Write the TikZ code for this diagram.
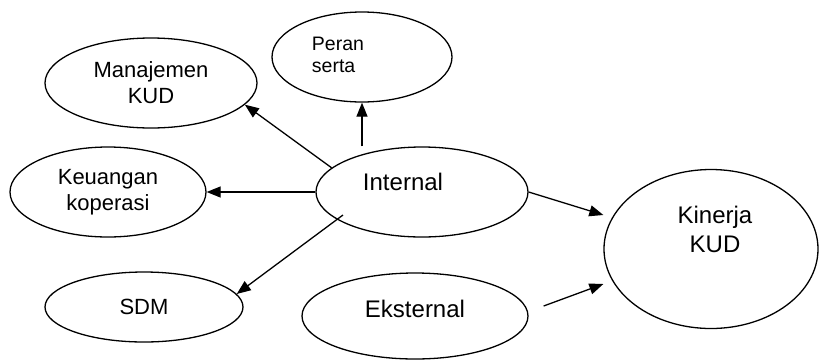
\documentclass[tikz,border=0pt]{standalone}
\usepackage{fontspec}
\setmainfont{Liberation Sans}
\usetikzlibrary{arrows.meta,shapes.geometric}

\tikzset{
  factor/.style={ellipse, draw, line width=1.3pt, inner sep=0pt, align=center},
  bigfont/.style={font=\fontsize{24}{29}\selectfont},
  midfont/.style={font=\fontsize{22}{26}\selectfont},
  smallfont/.style={font=\fontsize{19.5}{22}\selectfont},
}

\begin{document}
\begin{tikzpicture}[x=1pt, y=1pt, line width=1.3pt, >={Triangle[length=14pt,width=11pt]}]
    \useasboundingbox (0,0) rectangle (820,-360);
    \node [factor, midfont, minimum width=212pt, minimum height=90pt] (manajemen) at (151,-83) {Manajemen\\KUD};
    \node [factor, minimum width=180pt, minimum height=90pt,
           label={[smallfont, align=left, xshift=-24pt, yshift=2pt]center:Peran\\serta}] (peran) at (362,-57) {};
    \node [factor, midfont, minimum width=196pt, minimum height=90pt] (keuangan) at (108,-192) {Keuangan\\koperasi};
    \node [factor, minimum width=212pt, minimum height=90pt,
           label={[bigfont, xshift=-19pt, yshift=10pt]center:Internal}] (internal) at (422,-192) {};
    \node [factor, midfont, minimum width=198pt, minimum height=70pt] (sdm) at (144,-307) {SDM};
    \node [factor, minimum width=226pt, minimum height=86pt,
           label={[bigfont, yshift=7pt]center:Eksternal}] (eksternal) at (415,-316) {};
    \node [factor, minimum width=214pt, minimum height=159pt,
           label={[bigfont, align=center, xshift=4pt, yshift=20pt]center:Kinerja\\KUD}] (kinerja) at (711,-249) {};
    \coordinate (sdmtail) at ([shift={(-79,-23)}]internal.center);
      \path[->]
      (internal.165) edge (manajemen.-13)
      (internal.north -| peran.south) edge (peran.south)
      (internal.west) edge (keuangan.east)
      (sdmtail) edge (sdm.8)
      (internal.east) edge ([yshift=34pt]kinerja.west)
      ([xshift=15pt,yshift=10pt]eksternal.east) edge ([yshift=-35pt]kinerja.west)
      ;
  \end{tikzpicture}
\end{document}
